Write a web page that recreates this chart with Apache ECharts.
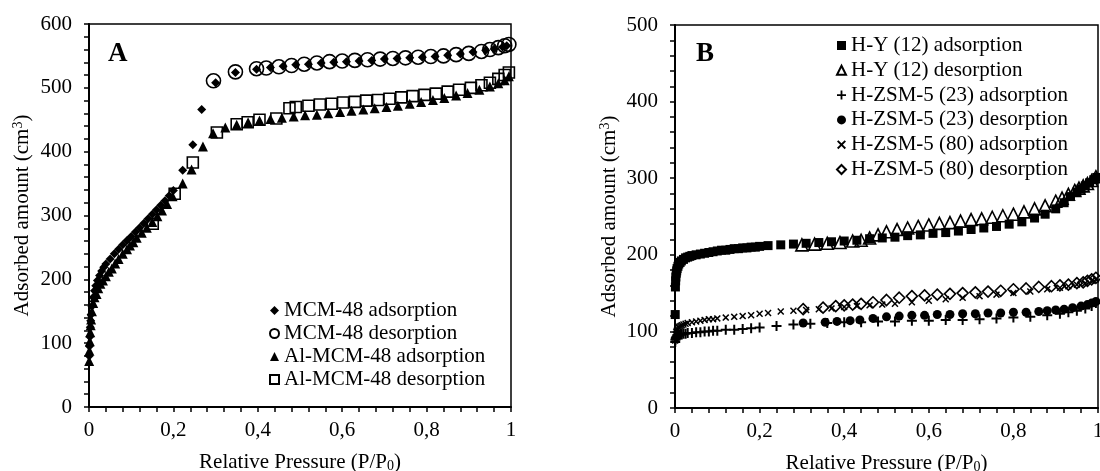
<!DOCTYPE html>
<html>
<head>
<meta charset="utf-8">
<script src="https://cdn.jsdelivr.net/npm/echarts@6/dist/echarts.min.js"></script>
<style>
  html, body { margin: 0; padding: 0; background: #fff; }
  #chart { width: 1100px; height: 471px; }
</style>
</head>
<body>
<div id="chart"></div>
<script>
// Nitrogen isotherms: [relative pressure P/P0, adsorbed amount cm3]

// Panel A
const mcmAds = [
  [0.0005,80],[0.001,95],[0.002,110],[0.003,125],[0.004,135],[0.005,145],[0.007,158],[0.01,172],
  [0.013,182],[0.016,190],[0.02,198],[0.025,206],[0.03,213],[0.035,219],[0.04,224],[0.05,232],
  [0.06,240],[0.07,247],[0.08,254],[0.09,261],[0.1,267],[0.11,274],[0.12,281],[0.13,288],
  [0.14,295],[0.15,302],[0.16,309],[0.17,316],[0.18,323],[0.19,331],[0.2,339],[0.222,371],
  [0.246,411],[0.267,466],[0.3,508],[0.347,524],[0.397,529],[0.43,532],[0.46,534],[0.49,536],
  [0.52,537],[0.55,539],[0.58,540],[0.61,541],[0.64,542],[0.67,543],[0.7,545],[0.73,546],
  [0.76,547],[0.79,548],[0.82,549],[0.85,551],[0.88,553],[0.91,556],[0.94,559],[0.96,561],
  [0.98,564],[0.99,566]
];
const mcmDes = [
  [0.995,568],[0.985,566],[0.97,563],[0.95,560],[0.93,557],[0.9,554],[0.87,552],[0.84,550],
  [0.81,549],[0.78,548],[0.75,547],[0.72,546],[0.69,545],[0.66,544],[0.63,543],[0.6,542],
  [0.57,541],[0.54,539],[0.51,537],[0.48,535],[0.45,533],[0.42,531],[0.397,530],[0.347,525],
  [0.295,511]
];
const alMcmAds = [
  [0.0005,72],[0.001,88],[0.002,103],[0.003,117],[0.004,128],[0.005,137],[0.007,150],[0.01,163],
  [0.013,172],[0.018,177],[0.022,186],[0.027,193],[0.033,198],[0.04,205],[0.047,212],[0.054,217],
  [0.062,225],[0.07,232],[0.08,240],[0.09,247],[0.097,253],[0.105,258],[0.113,265],[0.125,273],
  [0.137,281],[0.15,290],[0.162,299],[0.173,308],[0.185,318],[0.198,330],[0.222,350],[0.243,372],
  [0.27,408],[0.294,429],[0.323,438],[0.35,442],[0.377,446],[0.404,449],[0.43,451],[0.457,453],
  [0.485,455],[0.512,457],[0.54,458],[0.567,460],[0.595,462],[0.622,464],[0.65,466],[0.677,468],
  [0.705,470],[0.732,472],[0.76,475],[0.787,478],[0.815,481],[0.842,484],[0.87,488],[0.897,492],
  [0.925,497],[0.95,502],[0.97,507],[0.985,512],[0.995,518]
];
const alMcmDes = [
  [0.995,524],[0.985,520],[0.97,514],[0.95,508],[0.93,504],[0.905,500],[0.877,497],[0.85,494],
  [0.822,491],[0.795,489],[0.767,487],[0.74,485],[0.712,483],[0.685,481],[0.657,480],[0.63,478],
  [0.602,477],[0.575,475],[0.547,474],[0.52,472],[0.49,470],[0.475,468],[0.444,452],[0.404,450],
  [0.376,446],[0.35,443],[0.303,430],[0.246,383],[0.203,334],[0.151,287]
];

// Panel B
const hyAds = [
  [0.0005,122],[0.001,158],[0.0015,166],[0.002,171],[0.003,176],[0.004,179],[0.005,182],[0.007,185],
  [0.009,188],[0.012,190],[0.015,192],[0.02,194],[0.025,196],[0.03,197],[0.035,198],[0.04,199],
  [0.05,200],[0.06,201],[0.07,202],[0.08,203],[0.09,204],[0.1,205],[0.11,206],[0.12,206],
  [0.13,207],[0.14,208],[0.15,208],[0.16,209],[0.17,209],[0.18,210],[0.19,210],[0.2,211],
  [0.22,212],[0.25,213],[0.28,214],[0.31,215],[0.34,216],[0.37,217],[0.4,218],[0.43,219],
  [0.46,221],[0.49,222],[0.52,223],[0.55,225],[0.58,226],[0.61,228],[0.64,229],[0.67,231],
  [0.7,233],[0.73,235],[0.76,237],[0.79,240],[0.82,243],[0.85,248],[0.875,253],[0.9,260],
  [0.92,268],[0.935,276],[0.95,282],[0.96,286],[0.97,290],[0.98,294],[0.99,298],[0.997,301]
];
const hyDes = [
  [0.3,213],[0.33,214],[0.36,215],[0.39,216],[0.42,218],[0.44,219],[0.46,222],[0.48,226],
  [0.5,230],[0.525,233],[0.55,235],[0.575,237],[0.6,239],[0.625,241],[0.65,242],[0.675,244],
  [0.7,246],[0.725,247],[0.75,249],[0.775,251],[0.8,253],[0.825,256],[0.85,260],[0.875,264],
  [0.9,270],[0.915,274],[0.93,279],[0.945,284],[0.955,287],[0.965,290],[0.975,293],[0.985,297],
  [0.995,302]
];
const zsm23Ads = [
  [0.0005,86],[0.001,89],[0.002,91],[0.003,92],[0.004,93],[0.006,94],[0.008,95],[0.01,95],
  [0.013,96],[0.016,96],[0.02,97],[0.025,97],[0.03,98],[0.04,98],[0.05,99],[0.06,99],
  [0.07,100],[0.08,100],[0.09,101],[0.1,101],[0.12,102],[0.14,102],[0.16,103],[0.18,104],
  [0.2,105],[0.24,107],[0.28,109],[0.32,110],[0.36,111],[0.4,112],[0.44,112],[0.48,113],
  [0.52,113],[0.56,114],[0.6,114],[0.64,115],[0.68,115],[0.72,116],[0.76,117],[0.8,118],
  [0.84,119],[0.88,121],[0.91,123],[0.93,125],[0.95,127],[0.97,130],[0.985,133],[0.995,137]
];
const zsm23Des = [
  [0.303,111],[0.355,112],[0.383,113],[0.414,114],[0.437,115],[0.468,117],[0.5,119],[0.53,120],
  [0.56,121],[0.59,121],[0.62,122],[0.65,122],[0.68,123],[0.71,123],[0.74,124],[0.77,124],
  [0.8,125],[0.83,125],[0.86,126],[0.88,127],[0.9,128],[0.92,129],[0.94,131],[0.96,133],
  [0.975,135],[0.985,137],[0.995,139]
];
const zsm80Ads = [
  [0.0005,88],[0.001,92],[0.002,96],[0.003,99],[0.004,101],[0.006,103],[0.008,105],[0.01,106],
  [0.013,107],[0.016,108],[0.02,109],[0.025,110],[0.03,111],[0.04,112],[0.05,113],[0.06,114],
  [0.07,115],[0.08,116],[0.09,116],[0.1,117],[0.12,118],[0.14,119],[0.16,120],[0.18,121],
  [0.2,123],[0.22,124],[0.25,126],[0.28,127],[0.31,128],[0.34,129],[0.37,130],[0.4,132],
  [0.43,133],[0.46,134],[0.49,135],[0.52,136],[0.56,138],[0.6,140],[0.64,142],[0.68,144],
  [0.72,146],[0.76,148],[0.8,150],[0.84,152],[0.88,155],[0.91,157],[0.93,159],[0.95,161],
  [0.97,163],[0.985,166],[0.995,168]
];
const zsm80Des = [
  [0.303,129],[0.35,131],[0.38,133],[0.4,134],[0.42,135],[0.44,136],[0.468,138],[0.5,141],
  [0.53,144],[0.56,146],[0.59,147],[0.62,148],[0.65,149],[0.68,150],[0.71,151],[0.74,152],
  [0.77,153],[0.8,155],[0.83,156],[0.86,158],[0.89,159],[0.91,160],[0.93,161],[0.95,163],
  [0.965,164],[0.975,166],[0.985,168],[0.995,170]
];

// Labelled ticks; the axes also carry unlabelled ticks in between
const xTickLabels = ['0', '0,2', '0,4', '0,6', '0,8', '1'];
const yTickLabelsA = ['0', '100', '200', '300', '400', '500', '600'];
const yTickLabelsB = ['0', '100', '200', '300', '400', '500'];
const namesA = ['MCM-48 adsorption', 'MCM-48 desorption', 'Al-MCM-48 adsorption', 'Al-MCM-48 desorption'];
const namesB = ['H-Y (12) adsorption', 'H-Y (12) desorption', 'H-ZSM-5 (23) adsorption',
  'H-ZSM-5 (23) desorption', 'H-ZSM-5 (80) adsorption', 'H-ZSM-5 (80) desorption'];

const FONT = 'Liberation Serif';
const PLUS = 'path://M4,0H6V4H10V6H6V10H4V6H0V4H4Z';
const CROSS = 'path://M0,1.5L1.5,0L5,3.5L8.5,0L10,1.5L6.5,5L10,8.5L8.5,10L5,6.5L1.5,10L0,8.5L3.5,5Z';

const chart = echarts.init(document.getElementById('chart'), null, { renderer: 'canvas' });

const tickStyle = { show: true, length: 5, lineStyle: { color: '#000', width: 1.5 } };

function xAxisFor(gridIndex) {
  return {
    type: 'value', gridIndex, min: 0, max: 1, interval: 0.04,
    name: '{t|Relative Pressure (P/P}{s|0}{t|)}',
    nameLocation: 'middle', nameGap: 44,
    nameTextStyle: {
      rich: {
        t: { fontFamily: FONT, fontSize: 21, color: '#000', lineHeight: 22 },
        s: { fontFamily: FONT, fontSize: 14, color: '#000', lineHeight: 12, verticalAlign: 'bottom' }
      }
    },
    axisLine: { show: true, onZero: false, lineStyle: { color: '#000', width: 2 } },
    axisTick: tickStyle,
    splitLine: { show: false },
    axisLabel: {
      fontFamily: FONT, fontSize: 21, color: '#000', margin: 13,
      formatter: (v, i) => (i % 5 === 0 ? xTickLabels[i / 5] : '')
    }
  };
}

function yAxisFor(gridIndex, max, labels, gap) {
  return {
    type: 'value', gridIndex, min: 0, max, interval: 20,
    name: '{t|Adsorbed amount (cm}{p|3}{t|)}',
    nameLocation: 'middle', nameGap: gap,
    nameTextStyle: {
      rich: {
        t: { fontFamily: FONT, fontSize: 21, color: '#000', lineHeight: 22 },
        p: { fontFamily: FONT, fontSize: 14, color: '#000', lineHeight: 12, verticalAlign: 'top' }
      }
    },
    axisLine: { show: true, onZero: false, lineStyle: { color: '#000', width: 2 } },
    axisTick: tickStyle,
    splitLine: { show: false },
    axisLabel: {
      fontFamily: FONT, fontSize: 21, color: '#000', margin: 17,
      formatter: (v, i) => (i % 5 === 0 ? labels[i / 5] : '')
    }
  };
}

function scatter(name, data, gi, symbol, size, open) {
  return {
    type: 'scatter', name, data, xAxisIndex: gi, yAxisIndex: gi,
    symbol, symbolSize: size, animation: false, silent: true,
    itemStyle: open
      ? { color: 'rgba(255,255,255,0)', borderColor: '#000', borderWidth: 1.6, opacity: 1 }
      : { color: '#000', opacity: 1 }
  };
}

const legendText = { fontFamily: FONT, fontSize: 21, color: '#000', lineHeight: 21 };

const gridBase = {
  show: true, borderColor: '#000', borderWidth: 1.5, backgroundColor: 'transparent',
  containLabel: false, outerBoundsMode: 'none'
};

const option = {
  backgroundColor: '#fff',
  animation: false,
  title: [
    { text: 'A', left: 108, top: 41, padding: 0,
      textStyle: { fontFamily: FONT, fontSize: 27, fontWeight: 'bold', color: '#000' } },
    { text: 'B', left: 696, top: 41, padding: 0,
      textStyle: { fontFamily: FONT, fontSize: 27, fontWeight: 'bold', color: '#000' } }
  ],
  grid: [
    Object.assign({ left: 89, top: 24, width: 422, height: 383 }, gridBase),
    Object.assign({ left: 675, top: 25, width: 423, height: 383 }, gridBase)
  ],
  xAxis: [xAxisFor(0), xAxisFor(1)],
  yAxis: [yAxisFor(0, 600, yTickLabelsA, 56), yAxisFor(1, 500, yTickLabelsB, 55)],
  legend: [
    { data: namesA, orient: 'vertical', left: 269, top: 300, padding: 0,
      itemWidth: 9, itemHeight: 9, itemGap: 2, textStyle: legendText, selectedMode: false },
    { data: namesB, orient: 'vertical', left: 836, top: 35, padding: 0,
      itemWidth: 9, itemHeight: 9, itemGap: 3.8, textStyle: legendText, selectedMode: false }
  ],
  series: [
    scatter(namesA[0], mcmAds, 0, 'diamond', 9, false),
    scatter(namesA[1], mcmDes, 0, 'circle', 14, true),
    scatter(namesA[2], alMcmAds, 0, 'triangle', 10, false),
    scatter(namesA[3], alMcmDes, 0, 'rect', 11, true),
    scatter(namesB[0], hyAds, 1, 'rect', 9, false),
    scatter(namesB[1], hyDes, 1, 'triangle', 12, true),
    scatter(namesB[2], zsm23Ads, 1, PLUS, 10, false),
    scatter(namesB[3], zsm23Des, 1, 'circle', 9, false),
    scatter(namesB[4], zsm80Ads, 1, CROSS, 7, false),
    scatter(namesB[5], zsm80Des, 1, 'diamond', 11, true)
  ]
};

chart.setOption(option);
</script>
</body>
</html>
